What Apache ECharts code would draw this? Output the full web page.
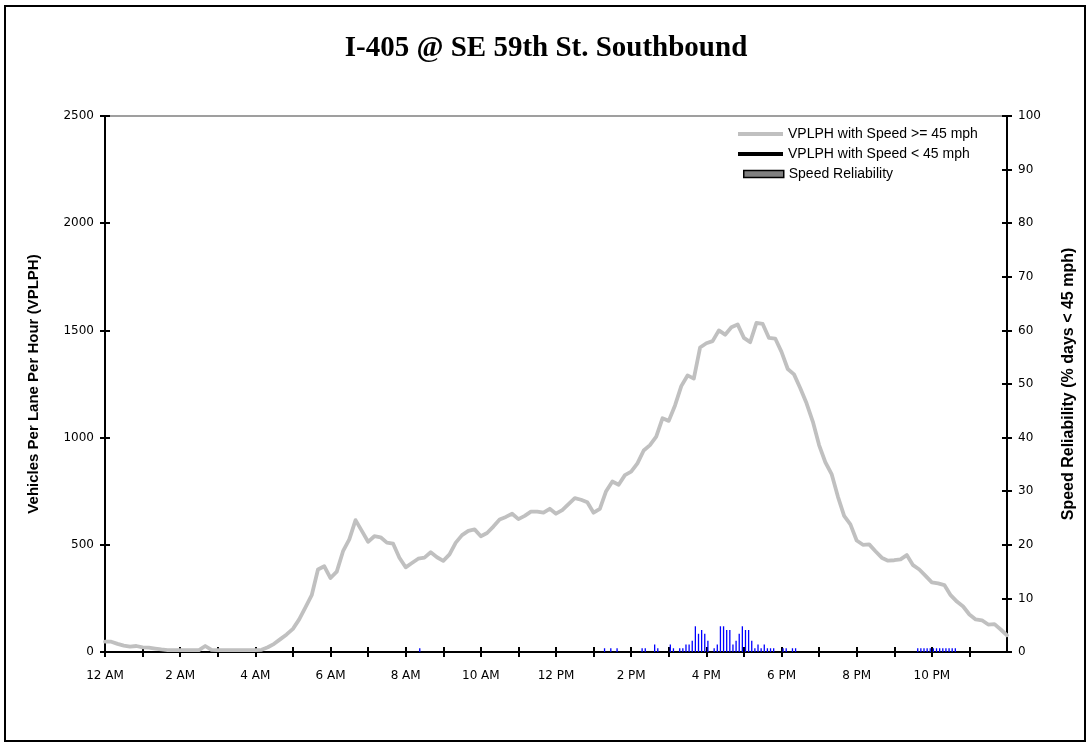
<!DOCTYPE html>
<html>
<head>
<meta charset="utf-8">
<title>I-405 @ SE 59th St. Southbound</title>
<script src="https://cdn.jsdelivr.net/npm/echarts@6.0.0/dist/echarts.min.js"></script>
<style>
  html, body { margin: 0; padding: 0; background: #ffffff; }
  #chart { width: 1092px; height: 748px; }
</style>
</head>
<body>
<div id="chart"></div>
<script>
// Time-of-day axis labels (one entry per hour, label every second hour)
const hourLabels = ['12 AM', '', '2 AM', '', '4 AM', '', '6 AM', '', '8 AM', '', '10 AM', '',
                    '12 PM', '', '2 PM', '', '4 PM', '', '6 PM', '', '8 PM', '', '10 PM', ''];

// Volume per lane per hour, sampled every 10 minutes from 0:00 to 24:00
const volumeStepMinutes = 10;
const volumeFast = [
  48, 48, 38, 30, 25, 28, 22, 20, 16, 12,
  9, 9, 9, 9, 9, 9, 28, 10, 9, 9,
  9, 9, 9, 9, 9, 10, 22, 38, 60, 82,
  108, 152, 208, 265, 385, 400, 345, 375, 470, 525,
  615, 565, 514, 540, 535, 510, 505, 440, 395, 415,
  435, 440, 465, 442, 425, 455, 510, 545, 565, 572,
  540, 555, 585, 618, 630, 645, 620, 635, 655, 655,
  650, 668, 645, 662, 690, 718, 710, 698, 650, 668,
  750, 795, 780, 825, 841, 880, 940, 965, 1005, 1090,
  1078, 1150, 1240, 1290, 1275, 1420, 1440, 1450, 1500, 1480,
  1515, 1528, 1465, 1445, 1535, 1530, 1465, 1462, 1400, 1320,
  1295, 1230, 1160, 1075, 965, 885, 830, 725, 635, 595,
  520, 500, 502, 470, 440, 426, 428, 432, 452, 405,
  385, 355, 325, 320, 312, 265, 235, 212, 175, 152,
  148, 128, 130, 105, 78
];

// Volume while speed is below 45 mph (no occurrences for this location)
const volumeSlow = [];

// Speed reliability: 5-minute slot index and percent of days below 45 mph
const reliabilitySlots = [
  100,
  159, 161, 163, 171, 172, 175, 176, 180, 181,
  183, 184, 185, 186, 187, 188, 189, 190, 191, 192,
  194, 195, 196, 197, 198, 199, 200, 201, 202, 203,
  204, 205, 206, 207, 208, 209, 210, 211, 212, 213,
  216, 217, 219, 220,
  259, 260, 261, 262, 263, 264, 265, 266, 267, 268, 269, 270, 271
];
const reliabilityPct = [
  0.7,
  0.7, 0.7, 0.7, 0.7, 0.7, 1.4, 0.7, 1.4, 0.7,
  0.7, 0.7, 1.4, 1.4, 2.1, 4.8, 3.4, 4.1, 3.4, 2.1,
  0.7, 1.4, 4.8, 4.8, 4.1, 4.1, 1.4, 2.1, 3.4, 4.8,
  4.1, 4.1, 2.1, 0.7, 1.4, 0.7, 1.4, 0.7, 0.7, 0.7,
  0.7, 0.7, 0.7, 0.7,
  0.7, 0.7, 0.7, 0.7, 0.7, 0.7, 0.7, 0.7, 0.7, 0.7, 0.7, 0.7, 0.7
];

const fastSeriesData = volumeFast.map((v, i) => [i * volumeStepMinutes, v]);
const slowSeriesData = volumeSlow.map((v, i) => [i * volumeStepMinutes, v]);
const reliabilityData = reliabilitySlots.map((s, i) => [s * 5 + 2.5, reliabilityPct[i]]);

const tickFont = { fontFamily: 'DejaVu Sans', fontSize: 12, color: '#000' };
const blackLine = { color: '#000', width: 2 };

// base axis + a twin that only draws the inward half of each tick
function timeAxis(inner) {
  return {
    type: 'value', min: 0, max: 1440, interval: 60, position: 'bottom',
    axisLine: { show: !inner, onZero: false, lineStyle: blackLine },
    axisTick: { show: true, inside: inner, length: 5, lineStyle: blackLine },
    axisLabel: inner ? { show: false } : Object.assign({
      margin: 18, showMaxLabel: false,
      formatter: v => (v < 1440 ? hourLabels[v / 60] : '')
    }, tickFont),
    splitLine: { show: false }
  };
}

function valueAxis(side, max, step, inner, name, gap, nameSize) {
  return {
    type: 'value', position: side, min: 0, max: max, interval: step,
    name: inner ? '' : name, nameLocation: 'middle', nameGap: gap,
    nameTextStyle: { fontFamily: 'Liberation Sans', fontWeight: 'bold', fontSize: nameSize, color: '#000' },
    axisLine: { show: !inner, onZero: false, lineStyle: blackLine },
    axisTick: { show: true, inside: inner, length: 5, lineStyle: blackLine },
    axisLabel: inner ? { show: false } : Object.assign({ margin: 11, formatter: v => String(v) }, tickFont),
    splitLine: { show: false }
  };
}

const chart = echarts.init(document.getElementById('chart'), null, { renderer: 'canvas' });

chart.setOption({
  animation: false,
  backgroundColor: '#ffffff',
  title: {
    text: 'I-405 @ SE 59th St. Southbound',
    left: 'center', top: 29,
    textStyle: { fontFamily: 'Liberation Serif', fontWeight: 'bold', fontSize: 29, color: '#000' }
  },
  graphic: [{
    type: 'rect', z: -1,
    shape: { x: 5, y: 6, width: 1080, height: 735 },
    style: { fill: 'none', stroke: '#000', lineWidth: 2 }
  }],
  grid: {
    left: 105, right: 85, top: 116, bottom: 96,
    show: true, borderColor: '#808080', borderWidth: 1.5, backgroundColor: 'transparent'
  },
  legend: [{
    orient: 'vertical', left: 738, top: 127, padding: 0,
    itemWidth: 45, itemHeight: 4, itemGap: 6, icon: 'rect',
    textStyle: { fontFamily: 'Liberation Sans', fontSize: 14, color: '#000' },
    data: ['VPLPH with Speed >= 45 mph', 'VPLPH with Speed < 45 mph']
  }, {
    orient: 'vertical', left: 743, top: 167, padding: 0,
    itemWidth: 40, itemHeight: 7, icon: 'rect',
    textStyle: { fontFamily: 'Liberation Sans', fontSize: 14, color: '#000' },
    data: [{
      name: 'Speed Reliability',
      itemStyle: { color: '#808080', borderColor: '#000', borderWidth: 1.5 }
    }]
  }],
  xAxis: [timeAxis(false), timeAxis(true)],
  yAxis: [
    valueAxis('left', 2500, 500, false, 'Vehicles Per Lane Per Hour (VPLPH)', 64, 15),
    valueAxis('right', 100, 10, false, 'Speed Reliability (% days < 45 mph)', 54, 16),
    valueAxis('left', 2500, 500, true, '', 0, 15),
    valueAxis('right', 100, 10, true, '', 0, 15)
  ],
  series: [{
    name: 'Speed Reliability',
    type: 'bar', xAxisIndex: 0, yAxisIndex: 1,
    barWidth: 1.3,
    itemStyle: { color: '#0000ff' },
    data: reliabilityData
  }, {
    name: 'VPLPH with Speed >= 45 mph',
    type: 'line', xAxisIndex: 0, yAxisIndex: 0,
    showSymbol: false, symbol: 'none',
    color: '#c0c0c0',
    lineStyle: { color: '#c0c0c0', width: 3.8, join: 'round', cap: 'round' },
    itemStyle: { color: '#c0c0c0' },
    data: fastSeriesData
  }, {
    name: 'VPLPH with Speed < 45 mph',
    type: 'line', xAxisIndex: 0, yAxisIndex: 0,
    showSymbol: false, symbol: 'none',
    color: '#000000',
    lineStyle: { color: '#000000', width: 3.8 },
    itemStyle: { color: '#000000' },
    data: slowSeriesData
  }]
});
</script>
</body>
</html>
